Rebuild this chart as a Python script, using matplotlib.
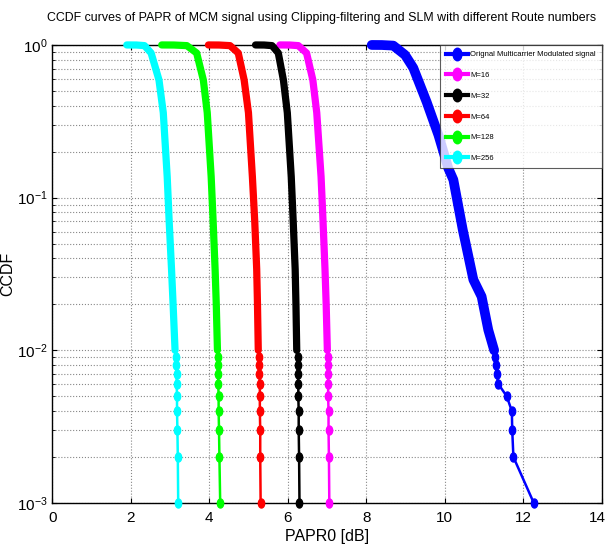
import numpy as np
import matplotlib
matplotlib.use("Agg")
import matplotlib.pyplot as plt
from matplotlib.lines import Line2D
from matplotlib.path import Path
from matplotlib.transforms import Affine2D, ScaledTranslation

# ----------------------------------------------------------
# DATA (CCDF of PAPR, 1000 blocks per curve)
# ----------------------------------------------------------
# CCDF levels shared by the SLM curves
ccdf_slm = [1.0, 0.999, 0.99, 0.886, 0.59, 0.36, 0.137, 0.07, 0.034, 0.02, 0.01,
            0.009, 0.008, 0.007, 0.006, 0.005, 0.004, 0.003, 0.002, 0.001]

papr_m16 = [5.80, 6.05, 6.27, 6.48, 6.64, 6.74, 6.85, 6.90, 6.95, 6.98, 7.01,
            7.02, 7.02, 7.03, 7.03, 7.03, 7.04, 7.04, 7.05, 7.06]
papr_m32 = [5.18, 5.40, 5.60, 5.76, 5.89, 5.99, 6.09, 6.14, 6.19, 6.21, 6.23,
            6.25, 6.26, 6.26, 6.27, 6.27, 6.28, 6.28, 6.29, 6.30]
papr_m64 = [3.98, 4.25, 4.53, 4.74, 4.89, 5.00, 5.10, 5.16, 5.21, 5.23, 5.25,
            5.28, 5.28, 5.28, 5.29, 5.29, 5.29, 5.30, 5.30, 5.31]
papr_m128 = [2.79, 3.10, 3.43, 3.68, 3.85, 3.95, 4.05, 4.10, 4.15, 4.18, 4.21,
             4.22, 4.22, 4.23, 4.23, 4.24, 4.24, 4.25, 4.26, 4.28]
papr_m256 = [1.90, 2.15, 2.35, 2.52, 2.72, 2.83, 2.93, 2.98, 3.04, 3.08, 3.13,
             3.15, 3.16, 3.17, 3.17, 3.18, 3.18, 3.19, 3.20, 3.21]

# original (unreduced) multicarrier signal
papr_orig = [8.14, 8.40, 8.69, 8.99, 9.20, 9.54, 9.84, 10.09, 10.22, 10.46, 10.73,
             10.94, 11.11, 11.26, 11.28, 11.30, 11.32, 11.37, 11.58, 11.71, 11.72,
             11.75, 12.27]
ccdf_orig = [1.0, 0.999, 0.99, 0.86, 0.707, 0.423, 0.257, 0.156, 0.131, 0.0616, 0.029,
             0.0225, 0.0136, 0.01, 0.009, 0.008, 0.007, 0.006, 0.005, 0.004, 0.003,
             0.002, 0.001]

labels = ["Orignal Multicarrier Modulated signal", "M=16", "M=32", "M=64", "M=128", "M=256"]
colors = ["#0000ff", "#ff00ff", "#000000", "#ff0000", "#00ff00", "#00ffff"]

# ----------------------------------------------------------
# STYLE
# ----------------------------------------------------------
plt.rcParams["font.family"] = ["Liberation Sans", "DejaVu Sans"]

# slightly tall ellipse as marker
ellipse = Affine2D().scale(0.7, 1.0).transform_path(Path.unit_circle())

fig = plt.figure(figsize=(6.07, 5.55), dpi=100)
ax = fig.add_axes([0.086, 0.0937, 0.9053, 0.8253])

series = [(papr_orig, ccdf_orig)] + [(p, ccdf_slm) for p in
                                     (papr_m16, papr_m32, papr_m64, papr_m128, papr_m256)]

handles = []
for (x, c), col, lab in zip(series, colors, labels):
    x = np.asarray(x)
    c = np.asarray(c)
    dense = c >= 0.01
    thick = 7.0 if col == "#0000ff" else 5.2
    # upper part: markers overlap into a solid band
    ax.plot(x[dense], c[dense], color=col, lw=thick, solid_capstyle="round",
            solid_joinstyle="round", clip_on=False, zorder=3)
    # tail: single samples shown as markers
    tail = ~dense
    tail[np.argmax(tail) - 1] = True
    ax.plot(x[tail], c[tail], color=col, lw=1.8, zorder=3, clip_on=False)
    ax.plot(x[~dense], c[~dense], ls="none", marker=ellipse, ms=6.5, color=col,
            clip_on=False, zorder=4)
    handles.append(Line2D([], [], color=col, lw=3, marker=ellipse, ms=9))

ax.set_yscale("log")
ax.set_xlim(0, 14)
ax.set_ylim(1e-3, 1)
ax.set_xticks(np.arange(0, 15, 2))
ax.set_yticks([1e-3, 1e-2, 1e-1, 1])

ax.grid(True, which="major", ls=":", color="#888888", lw=0.8)
ax.grid(True, which="minor", axis="y", ls=":", color="#888888", lw=0.8)
ax.tick_params(which="both", direction="in", top=True, right=True, labelsize=11)
ax.tick_params(axis="x", pad=6)
for s in ax.spines.values():
    s.set_linewidth(1.0)

# keep the last x label inside the figure
last = ax.get_xticklabels()[-1]
last.set_transform(last.get_transform() + ScaledTranslation(-4 / 100, 0, fig.dpi_scale_trans))

ax.set_title("CCDF curves of PAPR of MCM signal using Clipping-filtering and SLM with different Route numbers",
             fontsize=8.9, pad=17, x=0.49)
ax.set_xlabel("PAPR0 [dB]", fontsize=11.5, labelpad=3)
ax.set_ylabel("CCDF", fontsize=11.5)
ax.yaxis.set_label_coords(-0.068, 0.5)

leg = ax.legend(handles, labels, loc="upper right", fontsize=5.5, frameon=True,
                fancybox=False, borderaxespad=0, handlelength=2.9, handletextpad=0.2,
                labelspacing=1.75, borderpad=0.8)
leg.get_frame().set_edgecolor("#333333")
leg.get_frame().set_linewidth(0.8)

fig.savefig("out.png", dpi=100)
